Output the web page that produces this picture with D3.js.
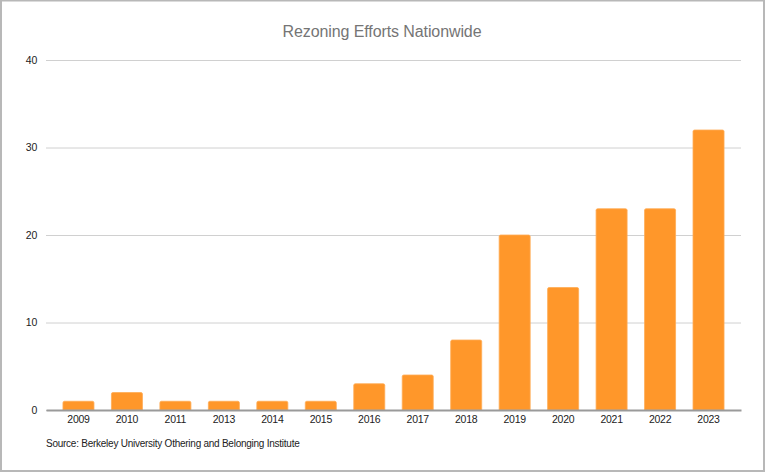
<!DOCTYPE html>
<html>
<head>
<meta charset="utf-8">
<script src="https://cdn.jsdelivr.net/npm/d3@7"></script>
<style>
  html, body { margin: 0; padding: 0; background: #fff; }
  svg { display: block; font-family: "Liberation Sans", Arial, sans-serif; }
</style>
</head>
<body>
<div id="chart"></div>
<script>
// data
const years = ['2009', '2010', '2011', '2013', '2014', '2015', '2016', '2017', '2018', '2019', '2020', '2021', '2022', '2023'];
const efforts = [1, 2, 1, 1, 1, 1, 3, 4, 8, 20, 14, 23, 23, 32];
const yTicks = [0, 10, 20, 30, 40];

const W = 768, H = 474;
const m = { left: 46, right: 27, top: 60, bottom: 64 };

const svg = d3.select('#chart').append('svg').attr('width', W).attr('height', H);

// frame of the embedded chart
svg.append('rect').attr('x', 1).attr('y', 0.5).attr('width', 763).attr('height', 470.5)
  .attr('fill', '#fff').attr('stroke', '#b8b8b8').attr('stroke-width', 2);

const x = d3.scaleBand().domain(years).range([m.left, W - m.right]).paddingInner(0.36).paddingOuter(0.35);
const y = d3.scaleLinear().domain([0, 40]).range([H - m.bottom, m.top]);

svg.append('text').attr('x', 382).attr('y', 36.5).attr('text-anchor', 'middle')
  .style('font-size', '16px').style('letter-spacing', '-0.1px').style('fill', '#757575')
  .text('Rezoning Efforts Nationwide');

// gridlines + y labels
const yAxis = d3.axisLeft(y).tickValues(yTicks).tickSize(-(W - m.left - m.right)).tickPadding(9);
const gy = svg.append('g').attr('transform', `translate(${m.left},0)`).call(yAxis);
gy.select('.domain').remove();
gy.selectAll('.tick line').attr('stroke', '#d0d0d0').attr('stroke-width', 1);
gy.selectAll('.tick text').attr('font-family', null)
  .style('font-size', '10.5px').style('letter-spacing', '-0.25px').style('fill', '#222');

// bars
svg.append('g').selectAll('path').data(efforts).enter().append('path')
  .attr('d', (d, i) => {
    const x0 = x(years[i]), w = x.bandwidth(), y0 = y(d), y1 = y(0), r = 1.5;
    return `M${x0},${y1}V${y0 + r}Q${x0},${y0} ${x0 + r},${y0}H${x0 + w - r}Q${x0 + w},${y0} ${x0 + w},${y0 + r}V${y1}Z`;
  })
  .attr('fill', '#ff972a').attr('stroke', '#ffac55').attr('stroke-width', 0.8);

// baseline + x labels
const gx = svg.append('g').attr('transform', `translate(0,${y(0)})`).call(d3.axisBottom(x).tickSize(0).tickPadding(6));
gx.select('.domain').attr('stroke', '#9a9a9a').attr('stroke-width', 2);
gx.selectAll('.tick text').attr('font-family', null)
  .style('font-size', '10.5px').style('letter-spacing', '-0.25px').style('fill', '#222');

svg.append('text').attr('x', m.left).attr('y', 447)
  .style('font-size', '10px').style('letter-spacing', '-0.25px').style('fill', '#222')
  .text('Source: Berkeley University Othering and Belonging Institute');
</script>
</body>
</html>
